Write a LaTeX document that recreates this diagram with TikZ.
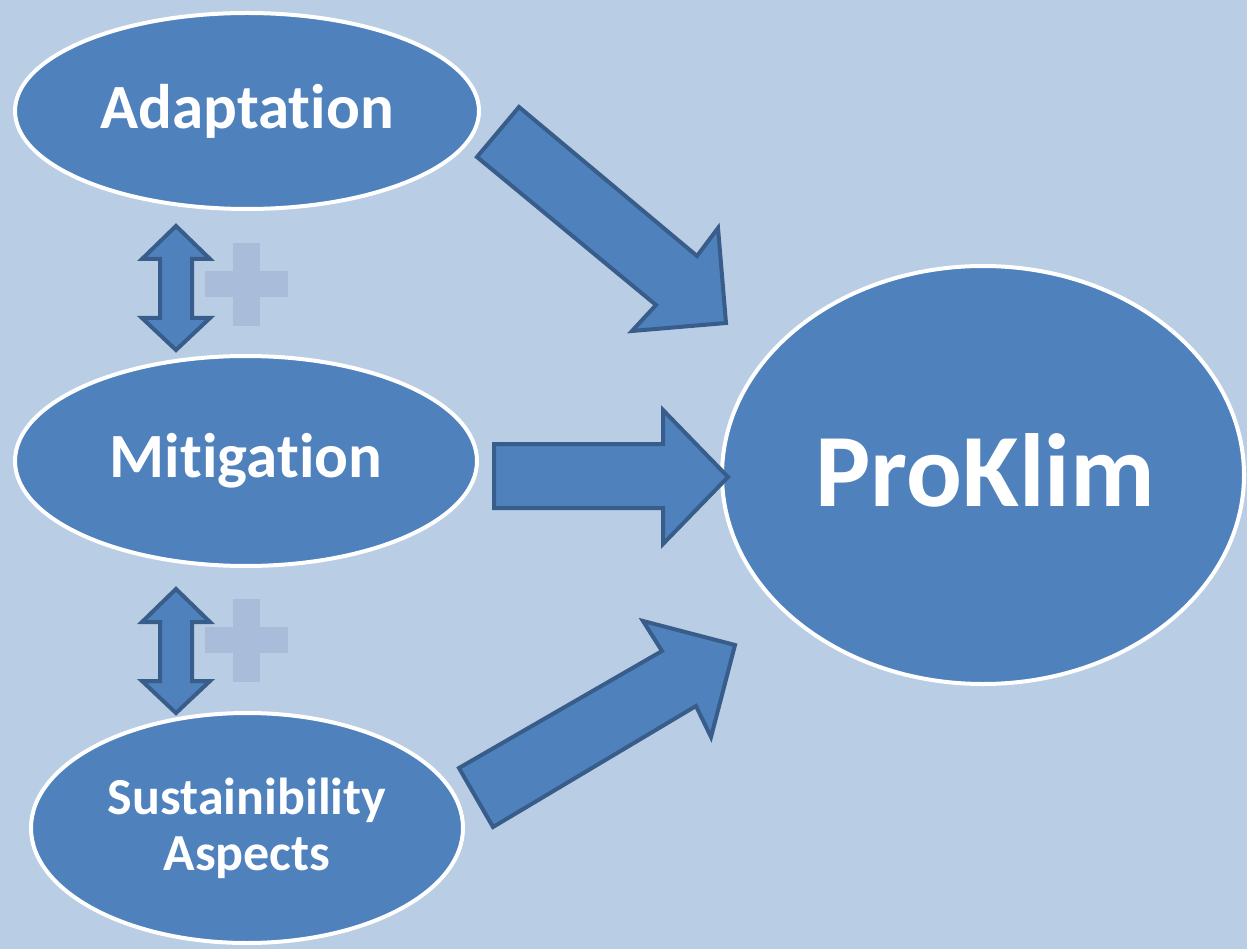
\documentclass[tikz,border=0pt]{standalone}
\usepackage{fontspec}
\setmainfont{Carlito}[Ligatures={NoCommon,NoRare,NoDiscretionary}]
\usetikzlibrary{shapes.geometric}
\definecolor{bgblue}{HTML}{B9CDE5}
\definecolor{fillblue}{HTML}{4F81BD}
\definecolor{edgeblue}{HTML}{385D8A}
\definecolor{plusblue}{HTML}{A9BCDA}
\tikzset{
  bubble/.style={ellipse, draw=white, line width=4pt, fill=fillblue, inner sep=0pt,
    text=white, align=center},
  blockarrow/.style={fill=fillblue, draw=edgeblue, line width=4pt, line join=miter},
  plusbar/.style={fill=plusblue, draw=none}
}
\begin{document}
\begin{tikzpicture}[x=1pt,y=-1pt]
\fill[bgblue] (0,0) rectangle (1247,949);
\useasboundingbox (0,0) rectangle (1247,949);

% plus signs
\fill[plusbar] (205,271) rectangle (288,297);
\fill[plusbar] (233,243) rectangle (260,326);
\fill[plusbar] (205,627) rectangle (288,653);
\fill[plusbar] (233,599) rectangle (260,682);

% ellipses
\node[bubble, minimum width=464pt, minimum height=196pt,
  font=\fontsize{63}{70}\selectfont\bfseries] (adapt) at (247,111) {Adaptation};
\node[bubble, minimum width=462pt, minimum height=210pt,
  font=\fontsize{63}{70}\selectfont\bfseries] (mitig) at (246,461) {Mitigation};
\node[bubble, minimum width=432pt, minimum height=230pt,
  font=\fontsize{52}{56}\selectfont\bfseries] (sust) at (247,828) {Sustainibility\\Aspects};
\node[bubble, minimum width=522pt, minimum height=418pt] (prok) at (983,475) {};
\node[text=white, font=\fontsize{104}{110}\selectfont\bfseries, inner sep=0pt]
  (prokt) at (985,470) {ProKlim};

% block arrows
\draw[blockarrow] (519,107) -- (697,256) -- (718,228) -- (726,323) -- (632,331)
  -- (656,305) -- (477,157) -- cycle;
\draw[blockarrow] (494,444) -- (663,444) -- (663,410) -- (728,477) -- (663,544)
  -- (663,508) -- (494,508) -- cycle;
\draw[blockarrow] (459,768) -- (662,651) -- (643,621) -- (735,645) -- (711,737)
  -- (696,706) -- (493,827) -- cycle;

% double arrows
\draw[blockarrow] (176,226) -- (210,259) -- (192,259) -- (192,318) -- (210,318)
  -- (176,350) -- (142,318) -- (160,318) -- (160,259) -- (142,259) -- cycle;
\draw[blockarrow] (176,589) -- (210,622) -- (192,622) -- (192,681) -- (210,681)
  -- (176,713) -- (142,681) -- (160,681) -- (160,622) -- (142,622) -- cycle;
\end{tikzpicture}
\end{document}
